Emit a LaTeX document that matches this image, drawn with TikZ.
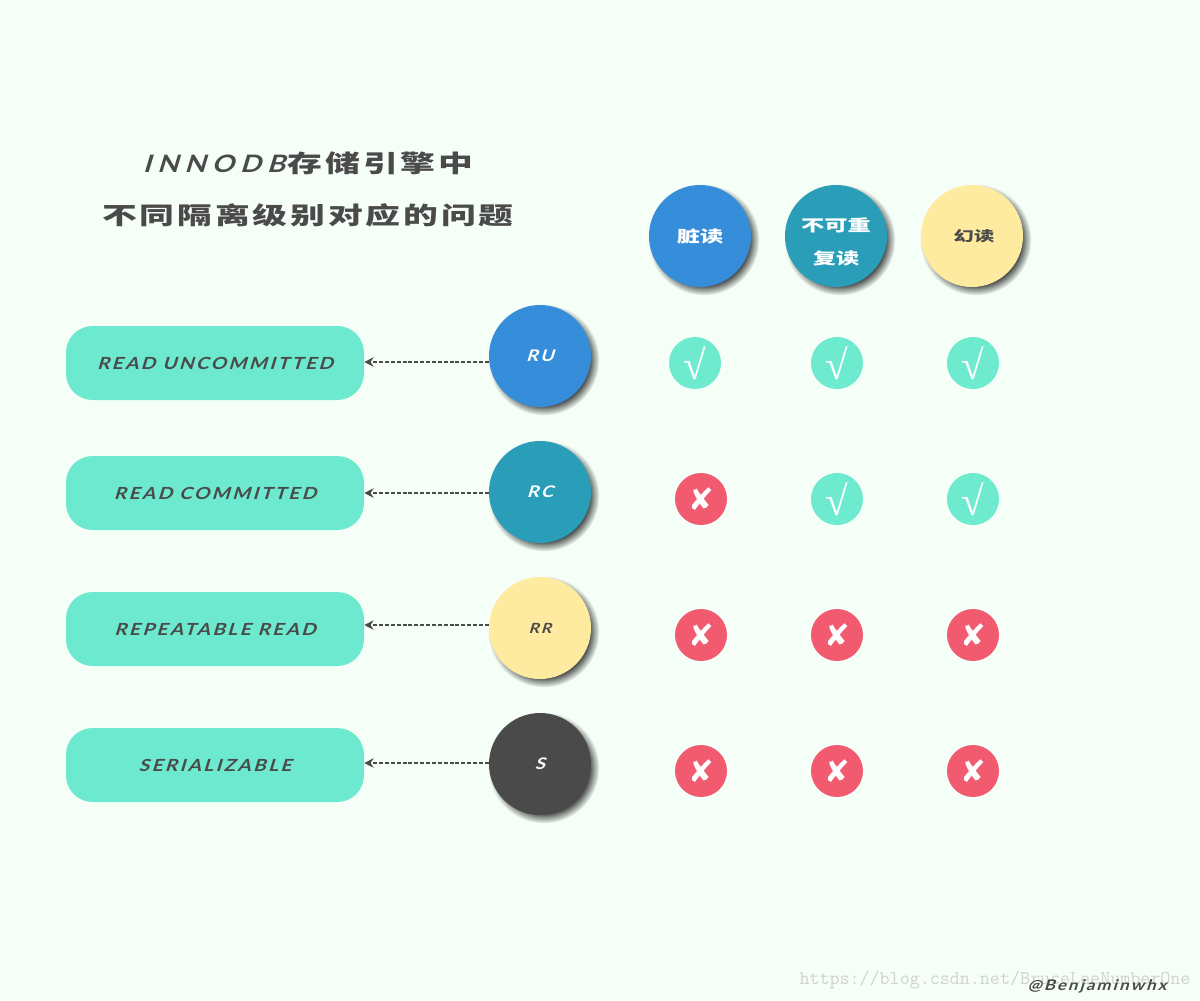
\documentclass[tikz,border=0pt]{standalone}
\usepackage{fontspec}
\usepackage{tikz}
\usetikzlibrary{shadows,fadings,arrows.meta}
\newfontfamily\cnfont[FakeStretch=1.45]{Noto Sans CJK SC}
\newfontfamily\cntitle[FakeStretch=1.45,LetterSpace=12]{Noto Sans CJK SC}
\newfontfamily\lnfont[FakeStretch=1.15,FakeSlant=0.3,LetterSpace=14]{Lato}
\newfontfamily\lntitle[FakeStretch=1.15,FakeSlant=0.3,LetterSpace=25]{Lato}
\newfontfamily\sigfont[FakeStretch=1.15,FakeSlant=0.3,LetterSpace=14]{Lato}
\newfontfamily\markfont{DejaVu Sans}
\newfontfamily\rootfont{Liberation Serif}
\definecolor{pagebg}{HTML}{F5FFF7}
\definecolor{inkgrey}{HTML}{4A4A4A}
\definecolor{pillgreen}{HTML}{6CE9CE}
\definecolor{okgreen}{HTML}{6EEBCF}
\definecolor{nored}{HTML}{F25B6F}
\definecolor{ballblue}{HTML}{368EDA}
\definecolor{ballteal}{HTML}{2A9DB8}
\definecolor{ballyellow}{HTML}{FFEBA0}
\pgfdeclareradialshading{ballfuzzshade}{\pgfpointorigin}{color(0bp)=(pgftransparent!0); color(19bp)=(pgftransparent!0); color(25bp)=(pgftransparent!100); color(50bp)=(pgftransparent!100)}
\pgfdeclarefading{ballfuzz}{\pgfuseshading{ballfuzzshade}}
\tikzset{
  ball/.style={circle,minimum size=76.5pt,inner sep=0pt,align=center,
    general shadow={shadow xshift=2.6pt,shadow yshift=-2.6pt,shadow scale=1.09,fill=black!90,path fading=ballfuzz}},
  pill/.style={rectangle,rounded corners=20pt,minimum width=223.5pt,minimum height=55.5pt,inner sep=0pt,fill=pillgreen,text=inkgrey,font=\lnfont\bfseries\fontsize{12.5}{12.5}\selectfont},
  okmark/.style={circle,minimum size=39pt,inner sep=0pt,fill=okgreen,text=white,font=\rootfont\fontsize{31}{31}\selectfont},
  nomark/.style={circle,minimum size=39pt,inner sep=0pt,fill=nored,text=white,font=\markfont\bfseries\fontsize{23}{23}\selectfont},
  linkarrow/.style={draw=inkgrey,dash pattern=on 3pt off 1.4pt,line width=1.1pt,-{Stealth[length=7pt,width=7pt]}},
  heading/.style={text=inkgrey,inner sep=0pt,font=\bfseries\fontsize{18}{18}\selectfont},
}
\begin{document}
\begin{tikzpicture}[x=0.75pt,y=0.75pt,yscale=-1,xscale=1]
\useasboundingbox (0,0) rectangle (1200,1000);
\fill[pagebg] (0,0) rectangle (1200,1000);

% Text Node
\node (titleA) at (308,163) [heading] {{\lntitle INNODB}\hspace{2pt}{\cntitle 存储引擎中}};
% Text Node
\node (titleB) at (308,215) [heading] {\cntitle 不同隔离级别对应的问题};

%Shape: Circle
\node (ballDirty) at (700,236) [ball,fill=ballblue,text=white,font=\cnfont\bfseries\fontsize{12}{12}\selectfont] {脏读};
\node (ballRepeat) at (836,236) [ball,fill=ballteal,text=white,font=\cnfont\bfseries\fontsize{12}{24.7}\selectfont] {\rule{0pt}{19pt}不可重\\复读};
\node (ballPhantom) at (972,236) [ball,fill=ballyellow,text=inkgrey,font=\cnfont\bfseries\fontsize{10.5}{10.5}\selectfont] {\hspace{3pt}幻读};

%Shape: Rounded Rect
\node (pillRU) at (215,363) [pill] {READ UNCOMMITTED};
\node (pillRC) at (215,493) [pill] {READ COMMITTED};
\node (pillRR) at (215,629) [pill] {REPEATABLE READ};
\node (pillS) at (215,765) [pill] {SERIALIZABLE};

%Shape: Circle
\node (ballRU) at (540,356) [ball,fill=ballblue,text=white,font=\lnfont\bfseries\fontsize{12}{12}\selectfont] {RU};
\node (ballRC) at (540,492) [ball,fill=ballteal,text=white,font=\lnfont\bfseries\fontsize{12}{12}\selectfont] {RC};
\node (ballRR) at (540,628) [ball,fill=ballyellow,text=inkgrey,font=\lnfont\bfseries\fontsize{10.5}{10.5}\selectfont] {RR};
\node (ballS) at (540,764) [ball,fill=inkgrey,text=white,font=\lnfont\bfseries\fontsize{12}{12}\selectfont] {S};

%Straight Lines
\draw [linkarrow] ([yshift=4.5pt]ballRU.west) -- ([yshift=-0.75pt]pillRU.east);
\draw [linkarrow] ([yshift=0.75pt]ballRC.west) -- (pillRC.east);
\draw [linkarrow] ([yshift=-2.25pt]ballRR.west) -- ([yshift=-3pt]pillRR.east);
\draw [linkarrow] ([yshift=-0.75pt]ballS.west) -- ([yshift=-1.5pt]pillS.east);

%Shape: Circle
\node (markA1) at (695,363) [okmark] {√};
\node (markA2) at (837,363) [okmark] {√};
\node (markA3) at (973,363) [okmark] {√};
\node (markB1) at (701,499) [nomark] {✘};
\node (markB2) at (837,499) [okmark] {√};
\node (markB3) at (973,499) [okmark] {√};
\node (markC1) at (701,635) [nomark] {✘};
\node (markC2) at (837,635) [nomark] {✘};
\node (markC3) at (973,635) [nomark] {✘};
\node (markD1) at (701,771) [nomark] {✘};
\node (markD2) at (837,771) [nomark] {✘};
\node (markD3) at (973,771) [nomark] {✘};

% Text Node
\node (urlmark) at (995,980) [inner sep=0pt,text=black!18,font=\ttfamily\fontsize{14.6}{14.6}\selectfont] {https://blog.csdn.net/BruceLeeNumberOne};
% Text Node
\node (signature) at (1097,986) [inner sep=0pt,text=inkgrey,font=\sigfont\bfseries\fontsize{11}{11}\selectfont] {@Benjaminwhx};
\end{tikzpicture}
\end{document}
